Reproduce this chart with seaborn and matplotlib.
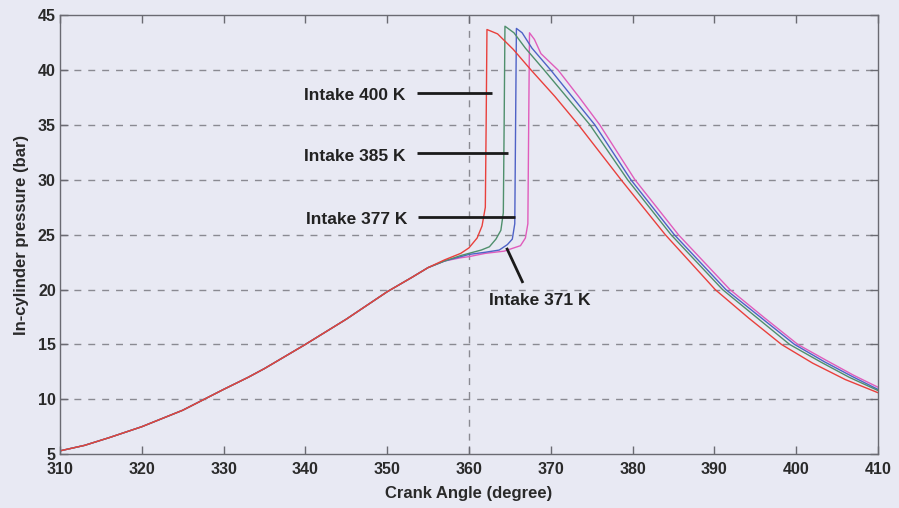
import numpy as np
import pandas as pd
import matplotlib
matplotlib.use("Agg")
import matplotlib.pyplot as plt
import matplotlib.transforms as mtransforms
import seaborn as sns

# ---------------- data ----------------
comp_ca = [310, 313, 316, 320, 325, 330, 333, 335, 340, 345, 350, 353, 355]
comp_p = [5.3, 5.8, 6.5, 7.5, 9.0, 10.9, 12.0, 12.8, 15.0, 17.3, 19.8, 21.1, 22.0]

red_ca = [357, 359, 360, 361, 361.6, 362.0, 362.1, 362.2, 363.5, 365.4, 367.6, 370.5,
          373.4, 378.6, 384.0, 390.1, 394.2, 398.2, 402.0, 406.0, 410]
red_p = [22.7, 23.3, 23.8, 24.7, 25.8, 27.5, 35.0, 43.7, 43.3, 41.9, 40.0, 37.6,
         35.0, 30.0, 25.0, 20.0, 17.4, 15.0, 13.3, 11.8, 10.6]

green_ca = [357, 359, 360, 361.5, 362.5, 363.3, 363.9, 364.2, 364.3, 364.4, 365.5, 366.9,
            369.2, 372.0, 374.8, 379.4, 384.7, 391.0, 395.1, 399.2, 403.0, 406.5, 410]
green_p = [22.6, 23.1, 23.3, 23.6, 23.9, 24.6, 25.4, 27.0, 35.0, 44.0, 43.4, 42.0,
           40.0, 37.5, 35.0, 30.0, 25.0, 20.0, 17.5, 15.0, 13.4, 12.0, 10.8]

blue_ca = [357, 359, 360, 362, 363.7, 364.7, 365.3, 365.6, 365.7, 365.8, 366.5, 367.7,
           370.0, 372.7, 375.4, 379.8, 385.1, 391.4, 395.6, 399.8, 403.5, 406.8, 410]
blue_p = [22.6, 23.0, 23.2, 23.4, 23.6, 24.1, 24.6, 26.0, 35.0, 43.8, 43.4, 42.0,
          40.0, 37.5, 35.0, 30.0, 25.0, 20.0, 17.5, 15.0, 13.4, 12.1, 10.9]

pink_ca = [357, 359, 360, 362, 364.3, 365.5, 366.3, 366.9, 367.2, 367.3, 367.4, 368.0,
           368.8, 370.9, 373.5, 376.0, 380.3, 385.6, 391.9, 396.0, 400.2, 403.8, 407.0, 410]
pink_p = [22.6, 22.9, 23.0, 23.3, 23.5, 23.8, 24.0, 24.7, 26.0, 35.0, 43.4, 42.8,
          41.5, 40.0, 37.5, 35.0, 30.0, 25.0, 20.0, 17.5, 15.0, 13.5, 12.2, 11.1]

series_names = ["Intake 400 K", "Intake 385 K", "Intake 377 K", "Intake 371 K"]
series_colors = ["#e8403c", "#4f8f6c", "#4f62c6", "#e05cbc"]

x_ticks = [310, 320, 330, 340, 350, 360, 370, 380, 390, 400, 410]
y_ticks = [5, 10, 15, 20, 25, 30, 35, 40, 45]

# annotation label positions and leader lines (data coordinates)
ann_text = ["Intake 400 K", "Intake 385 K", "Intake 377 K", "Intake 371 K"]
ann_text_xy = [(352.2, 37.7), (352.2, 32.1), (352.5, 26.4), (368.6, 19.0)]
ann_ha = ["right", "right", "right", "center"]
ann_line_x = [(353.6, 362.8), (353.6, 364.8), (353.8, 365.6), (364.6, 366.6)]
ann_line_y = [(37.9, 37.9), (32.4, 32.4), (26.6, 26.6), (23.8, 20.6)]

# ---------------- build long table ----------------
frames = []
for name, ca, p in zip(series_names,
                       [red_ca, green_ca, blue_ca, pink_ca],
                       [red_p, green_p, blue_p, pink_p]):
    frames.append(pd.DataFrame({"ca": comp_ca + ca, "p": comp_p + p, "case": name}))
df = pd.concat(frames, ignore_index=True)

# ---------------- style ----------------
sns.set_theme(style="white")
bg = "#e8e9f3"
plt.rcParams["font.family"] = ["Liberation Sans", "DejaVu Sans"]

fig = plt.figure(figsize=(8.99, 5.08), dpi=100, facecolor=bg)
ax = fig.add_axes([0.0667, 0.106, 0.9099, 0.864])
ax.set_facecolor(bg)

# draw in reverse so red is on top
for name, col in list(zip(series_names, series_colors))[::-1]:
    sns.lineplot(data=df[df["case"] == name], x="ca", y="p", color=col,
                 lw=1.0, sort=False, estimator=None, ax=ax, legend=False)

ax.set_xlim(310, 410)
ax.set_ylim(5, 45)
ax.set_xticks(x_ticks)
ax.set_yticks(y_ticks)
ax.set_xticklabels([str(t) for t in x_ticks], fontsize=11.5, fontweight="bold", color="#2a2a2a")
ax.set_yticklabels([str(t) for t in y_ticks], fontsize=11.5, fontweight="bold", color="#2a2a2a")

# lift the bottom y label "5" slightly (as in the reference, sits above "310")
lbl5 = ax.get_yticklabels()[0]
lbl5.set_transform(lbl5.get_transform() + mtransforms.ScaledTranslation(0, 4 / 72, fig.dpi_scale_trans))

# grid: horizontal dashed at y ticks, one vertical dashed line at 360
for yv in y_ticks[1:-1]:
    ax.axhline(yv, color="#8a8a92", lw=1.0, ls=(0, (5, 5)), zorder=0)
ax.axvline(360, color="#8a8a92", lw=1.0, ls=(0, (5, 5)), zorder=0)

for s in ax.spines.values():
    s.set_color("#6a6a72")
    s.set_linewidth(1.0)
    s.set_visible(True)

ax.tick_params(axis="both", direction="in", length=6, width=1.0, color="#6a6a72",
               top=True, right=True, bottom=True, left=True)
ax.tick_params(axis="x", pad=6)
ax.tick_params(axis="y", pad=3)

ax.set_xlabel("Crank Angle (degree)", fontsize=12, fontweight="bold", color="#2a2a2a", labelpad=6)
ax.set_ylabel("In-cylinder pressure (bar)", fontsize=12, fontweight="bold", color="#2a2a2a", labelpad=6)

for txt, (tx, ty), ha, lx, ly in zip(ann_text, ann_text_xy, ann_ha, ann_line_x, ann_line_y):
    ax.text(tx, ty, txt, ha=ha, va="center", fontsize=12.5, fontweight="bold", color="#222222")
    ax.plot(lx, ly, color="#1a1a1a", lw=2.0, solid_capstyle="butt")

fig.savefig("out.png", dpi=100, facecolor=bg)
